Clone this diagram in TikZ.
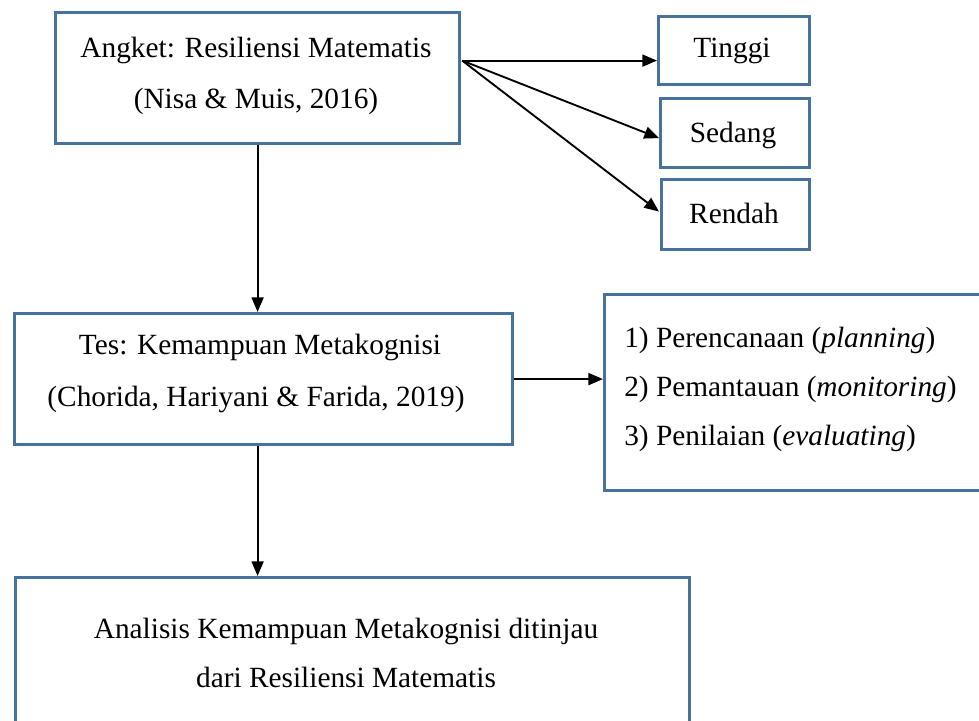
\documentclass[tikz,border=0pt]{standalone}
\usepackage{fontspec}
\setmainfont{Liberation Serif}
\usetikzlibrary{arrows.meta,calc}
\definecolor{boxblue}{RGB}{72,114,158}
\tikzset{
  box/.style={draw=boxblue, line width=2.4pt, fill=white, inner sep=0pt, anchor=north west},
  txt/.style={font=\fontsize{22}{26}\selectfont, inner sep=0pt, anchor=base},
  txtl/.style={txt, anchor=base west},
  arr/.style={line width=1.4pt, -{Triangle[length=11pt,width=9pt]}}
}
\begin{document}
\begin{tikzpicture}[x=0.75pt,y=-0.75pt]
\useasboundingbox (0,0) rectangle (979,721);
\clip (0,0) rectangle (979,721);
\fill[white] (0,0) rectangle (979,721);
% boxes
\node[box, minimum width=404*0.75pt, minimum height=131*0.75pt] (b1) at (54,11) {};
\node[box, minimum width=151*0.75pt, minimum height=68*0.75pt] (t) at (657,15) {};
\node[box, minimum width=149*0.75pt, minimum height=69*0.75pt] (s) at (659,97) {};
\node[box, minimum width=148*0.75pt, minimum height=70*0.75pt] (r) at (660,178) {};
\node[box, minimum width=498*0.75pt, minimum height=131*0.75pt] (b2) at (13,312) {};
\node[box, minimum width=500*0.75pt, minimum height=196*0.75pt] (b3) at (603,293) {};
\node[box, minimum width=674*0.75pt, minimum height=200*0.75pt] (b4) at (14,576) {};
% texts
\node[txt] (b1a) at (256,57) {Angket: Resiliensi Matematis};
\node[txt] (b1b) at (256,108) {(Nisa \& Muis, 2016)};
\node[txt] (ta) at (732,57) {Tinggi};
\node[txt] (sa) at (733,142) {Sedang};
\node[txt] (ra) at (734,223) {Rendah};
\node[txt] (b2a) at (260,354) {Tes: Kemampuan Metakognisi};
\node[txt] (b2b) at (256,406) {(Chorida, Hariyani \& Farida, 2019)};
\node[txtl] (b3a) at (624,347) {1) Perencanaan (\textit{planning})};
\node[txtl] (b3b) at (624,396) {2) Pemantauan (\textit{monitoring})};
\node[txtl] (b3c) at (624,445) {3) Penilaian (\textit{evaluating})};
\node[txt] (b4a) at (346,638) {Analisis Kemampuan Metakognisi ditinjau};
\node[txt] (b4b) at (346,687) {dari Resiliensi Matematis};
% connectors
\coordinate (o) at ($(b1.east)+(1,-17.5)$);
\draw[arr] (o) -- (o -| t.west);
\draw[arr] (o) -- ($(s.west)+(0,5)$);
\draw[arr] (o) -- ($(r.west)+(-1,-3)$);
\draw[arr] (b1.south) -- (b1.south |- b2.north);
\draw[arr] (b2.east) -- (b2.east -| b3.west);
\draw[arr] (b1.south |- b2.south) -- (b1.south |- b4.north);
\end{tikzpicture}
\end{document}
